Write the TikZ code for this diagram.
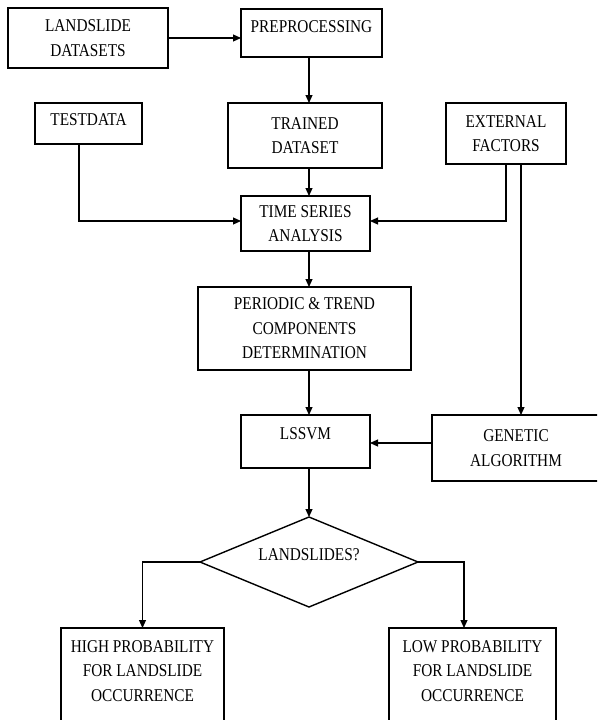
\documentclass[tikz,border=0pt]{standalone}
\usepackage{fontspec}
\setmainfont[FakeStretch=0.85]{Liberation Serif}
\usetikzlibrary{shapes.geometric,arrows.meta}
\begin{document}
\begin{tikzpicture}[x=1pt,y=-1pt,
  box/.style={draw,line width=1.4pt,inner sep=0pt,outer sep=0pt,align=center,
    font=\fontsize{18}{24.5}\selectfont},
  arr/.style={line width=1.1pt,-{Triangle[length=8pt,width=7pt]}}]
\useasboundingbox (0,0) rectangle (597,720);
\clip (0,0) rectangle (597,720);
% boxes
\node[box,minimum width=160,minimum height=60] (land) at (88,38) {LANDSLIDE\\DATASETS};
\node[box,minimum width=141,text height=23pt,text depth=25pt] (prep) at (311.5,33) {PREPROCESSING};
\node[box,minimum width=107,text height=22pt,text depth=19pt] (test) at (88.5,123.5) {TESTDATA};
\node[box,minimum width=154,minimum height=65] (trained) at (305,135.5) {TRAINED\\DATASET};
\node[box,minimum width=120,minimum height=61] (ext) at (506,133.5) {EXTERNAL\\FACTORS};
\node[box,minimum width=129,minimum height=55] (ts) at (305.5,223.5) {TIME SERIES\\ANALYSIS};
\node[box,minimum width=213,minimum height=83] (per) at (304.5,328.5) {PERIODIC \& TREND\\COMPONENTS\\DETERMINATION};
\node[box,minimum width=129,text height=24pt,text depth=29pt] (lssvm) at (305.5,441.5) {LSSVM};
\node[box,minimum width=168,minimum height=66] (gen) at (516,448) {GENETIC\\ALGORITHM};
\node[box,diamond,shape aspect=2.4,minimum width=218,minimum height=90,text height=12pt,text depth=16pt] (dia) at (309,562) {LANDSLIDES?};
\node[box,minimum width=163,minimum height=96] (high) at (142.5,676)
  {\raisebox{0pt}[\height][\dimexpr\depth+8pt\relax]{\begin{tabular}{@{}c@{}}HIGH PROBABILITY\\FOR LANDSLIDE\\OCCURRENCE\end{tabular}}};
\node[box,minimum width=167,minimum height=96] (low) at (472.5,676)
  {\raisebox{0pt}[\height][\dimexpr\depth+8pt\relax]{\begin{tabular}{@{}c@{}}LOW PROBABILITY\\FOR LANDSLIDE\\OCCURRENCE\end{tabular}}};
% helper coordinates
\coordinate (sp) at (309,0);
\coordinate (tx) at (79,221);
\coordinate (e1) at (506,221);
\coordinate (e2) at (521,0);
\coordinate (g) at (0,443);
\coordinate (r) at (464,0);
% connectors
\draw[arr] (land.east) -- (land.east -| prep.west);
\draw[arr] (prep.south -| sp) -- (trained.north -| sp);
\draw[arr] (trained.south -| sp) -- (ts.north -| sp);
\draw[arr] (test.south -| tx) |- (ts.west |- tx);
\draw[arr] (ext.south -| e1) |- (ts.east |- e1);
\draw[arr] (ext.south -| e2) -- (gen.north -| e2);
\draw[arr] (ts.south -| sp) -- (per.north -| sp);
\draw[arr] (per.south -| sp) -- (lssvm.north -| sp);
\draw[arr] (gen.west |- g) -- (lssvm.east |- g);
\draw[arr] (lssvm.south -| sp) -- (dia.north);
\draw[arr] (dia.west) -| (high.north);
\draw[arr] (dia.east) -| (low.north -| r);
\end{tikzpicture}
\end{document}
